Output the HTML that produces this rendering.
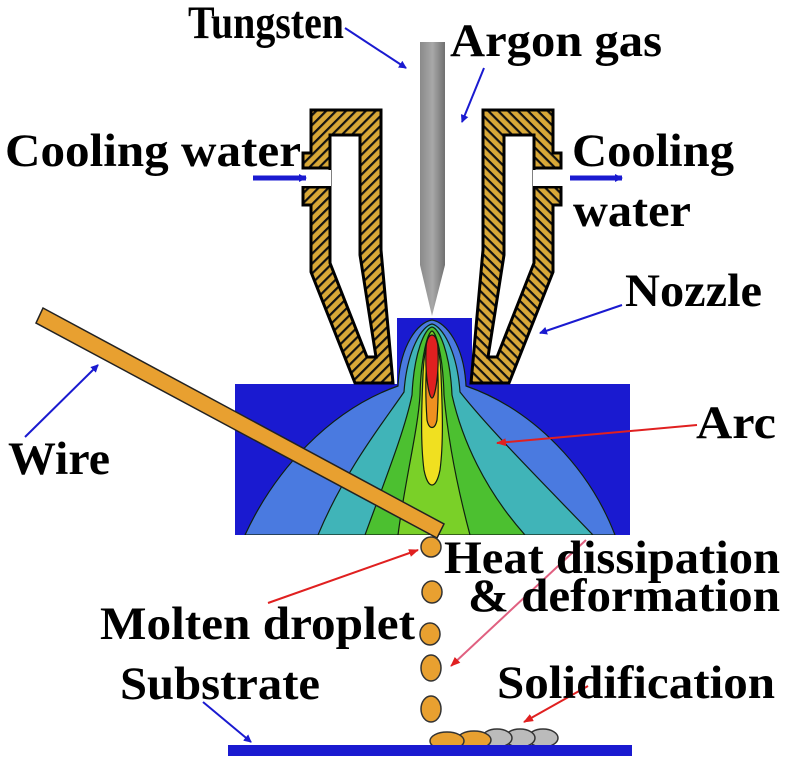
<!DOCTYPE html>
<html><head><meta charset="utf-8"><style>
html,body{margin:0;padding:0;background:#fff;}
svg{display:block;}
text{font-family:"Liberation Serif",serif;font-weight:bold;fill:#000;}
</style></head><body>
<svg width="787" height="768" viewBox="0 0 787 768" xmlns="http://www.w3.org/2000/svg">
<defs>
<pattern id="h" patternUnits="userSpaceOnUse" width="7" height="7" patternTransform="rotate(45)">
<rect width="7" height="7" fill="#d8a838"/><rect x="0" y="0" width="2.2" height="7" fill="#111"/>
</pattern>
<linearGradient id="tg" x1="0" x2="1"><stop offset="0" stop-color="#8a8a8a"/><stop offset="0.5" stop-color="#a8a8a8"/><stop offset="1" stop-color="#707070"/></linearGradient>
<marker id="ab" markerWidth="8" markerHeight="8" refX="7" refY="4" orient="auto" markerUnits="userSpaceOnUse"><path d="M0,0 L8,4 L0,8 Z" fill="#1a1ad0"/></marker>
<marker id="ar" markerWidth="10" markerHeight="8" refX="9" refY="4" orient="auto" markerUnits="userSpaceOnUse"><path d="M0,0 L10,4 L0,8 Z" fill="#e02020"/></marker>
<clipPath id="cp"><path d="M235,384 H397 V318 H472 V384 H630 V535 H235 Z"/></clipPath>
</defs>

<path d="M235,384 H397 V318 H472 V384 H630 V535 H235 Z" fill="#1a1ad0"/>
<g clip-path="url(#cp)" stroke="#102010" stroke-width="1.2">
<path d="M245,535 C275,470 330,410 398,386 C400,345 418,322 432,320 C446,322 464,345 466,386 C535,410 590,470 615,535 Z" fill="#4a7ae0"/>
<path d="M318,535 C345,470 385,420 404,392 C407,350 422,326 432,324 C442,326 457,350 460,392 C490,430 540,480 593,535 Z" fill="#40b4b8"/>
<path d="M365,535 C385,480 405,430 412,395 C414,352 425,328 432,327 C439,328 450,352 452,395 C462,440 485,490 525,535 Z" fill="#4cc030"/>
<path d="M398,535 C405,480 418,430 420,395 C421,355 428,332 432,331 C436,332 443,355 444,395 C448,440 458,490 470,535 Z" fill="#7ad028"/>
<path d="M424,470 C420,440 422,400 423,375 C424,350 428,338 432,337 C436,338 440,350 441,375 C442,400 444,440 440,470 C436,490 428,490 424,470 Z" fill="#f0e020"/>
<path d="M427,420 C425,390 426,365 428,350 C430,340 434,340 436,350 C438,365 439,390 437,420 C435,430 429,430 427,420 Z" fill="#f09020"/>
<path d="M426,350 C426,330 438,330 438,350 C439,375 435,398 432,398 C429,398 425,375 426,350 Z" fill="#e02020"/>
</g>

<path d="M420,42 H445 V265 L432,316 L420,265 Z" fill="url(#tg)"/>

<g stroke="#000" stroke-width="3" stroke-linejoin="miter">
<path d="M311,110 L381,110 L381,250 L393,383 L355,383 L311,272 L311,205 L303,205 L303,187 L330,187 L330,168 L303,168 L303,153 L311,153 Z" fill="url(#h)"/>
<path d="M330,135 L360,135 L360,255 L376,357 L367,357 L330,263 Z" fill="#fff"/>
</g>
<rect x="300" y="170" width="31" height="16" fill="#fff"/>
<g transform="translate(864,0) scale(-1,1)">
<g stroke="#000" stroke-width="3">
<path d="M311,110 L381,110 L381,250 L393,383 L355,383 L311,272 L311,205 L303,205 L303,187 L330,187 L330,168 L303,168 L303,153 L311,153 Z" fill="url(#h)"/>
<path d="M330,135 L360,135 L360,255 L376,357 L367,357 L330,263 Z" fill="#fff"/>
</g>
<rect x="300" y="170" width="31" height="16" fill="#fff"/>
</g>

<path d="M43,308 L444,524 L437,538 L36,323 Z" fill="#e8a030" stroke="#222" stroke-width="1.5"/>

<g fill="#e8a030" stroke="#333" stroke-width="1.5">
<circle cx="431" cy="547" r="10"/>
<ellipse cx="432" cy="592" rx="10" ry="11"/>
<ellipse cx="430" cy="634" rx="10" ry="11"/>
<ellipse cx="431" cy="668" rx="10" ry="13"/>
<ellipse cx="431" cy="709" rx="10" ry="13"/>
<g fill="#bbb"><ellipse cx="543" cy="738" rx="15" ry="9"/><ellipse cx="520" cy="738" rx="15" ry="9"/><ellipse cx="497" cy="738" rx="15" ry="9"/></g>
<ellipse cx="474" cy="740" rx="17" ry="9"/>
<ellipse cx="447" cy="741" rx="17" ry="9"/>
</g>
<rect x="228" y="745" width="404" height="11" fill="#1a1ad0"/>

<g stroke="#1a1ad0" stroke-width="2" fill="none" marker-end="url(#ab)">
<line x1="345" y1="28" x2="406" y2="68"/>
<line x1="484" y1="68" x2="462" y2="122"/>
<line x1="622" y1="305" x2="540" y2="333"/>
<line x1="25" y1="437" x2="98" y2="365"/>
<line x1="203" y1="702" x2="251" y2="742"/>
</g>
<g stroke="#1a1ad0" stroke-width="5" marker-end="url(#ab)">
<line x1="253" y1="178" x2="306" y2="178"/>
<line x1="570" y1="178" x2="622" y2="178"/>
</g>
<g stroke="#e02020" stroke-width="2" fill="none" marker-end="url(#ar)">
<line x1="697" y1="425" x2="497" y2="443"/>
<line x1="268" y1="603" x2="418" y2="550"/>
<line x1="586" y1="540" x2="451" y2="666" stroke="#e06080"/>
<line x1="588" y1="686" x2="524" y2="722"/>
</g>

<g font-size="47">
<text x="188" y="38" textLength="156" lengthAdjust="spacingAndGlyphs">Tungsten</text>
<text x="450" y="56" textLength="212" lengthAdjust="spacingAndGlyphs">Argon gas</text>
<text x="5" y="166" textLength="296" lengthAdjust="spacingAndGlyphs">Cooling water</text>
<text x="572" y="166" textLength="162" lengthAdjust="spacingAndGlyphs">Cooling</text>
<text x="573" y="226" textLength="118" lengthAdjust="spacingAndGlyphs">water</text>
<text x="625" y="306" textLength="137" lengthAdjust="spacingAndGlyphs">Nozzle</text>
<text x="696" y="438" textLength="80" lengthAdjust="spacingAndGlyphs">Arc</text>
<text x="8" y="474" textLength="102" lengthAdjust="spacingAndGlyphs">Wire</text>
<text x="444" y="573" textLength="336" lengthAdjust="spacingAndGlyphs">Heat dissipation</text>
<text x="468" y="611" textLength="312" lengthAdjust="spacingAndGlyphs">&amp; deformation</text>
<text x="100" y="639" textLength="315" lengthAdjust="spacingAndGlyphs">Molten droplet</text>
<text x="120" y="699" textLength="200" lengthAdjust="spacingAndGlyphs">Substrate</text>
<text x="497" y="698" textLength="278" lengthAdjust="spacingAndGlyphs">Solidification</text>
</g>
</svg>
</body></html>
